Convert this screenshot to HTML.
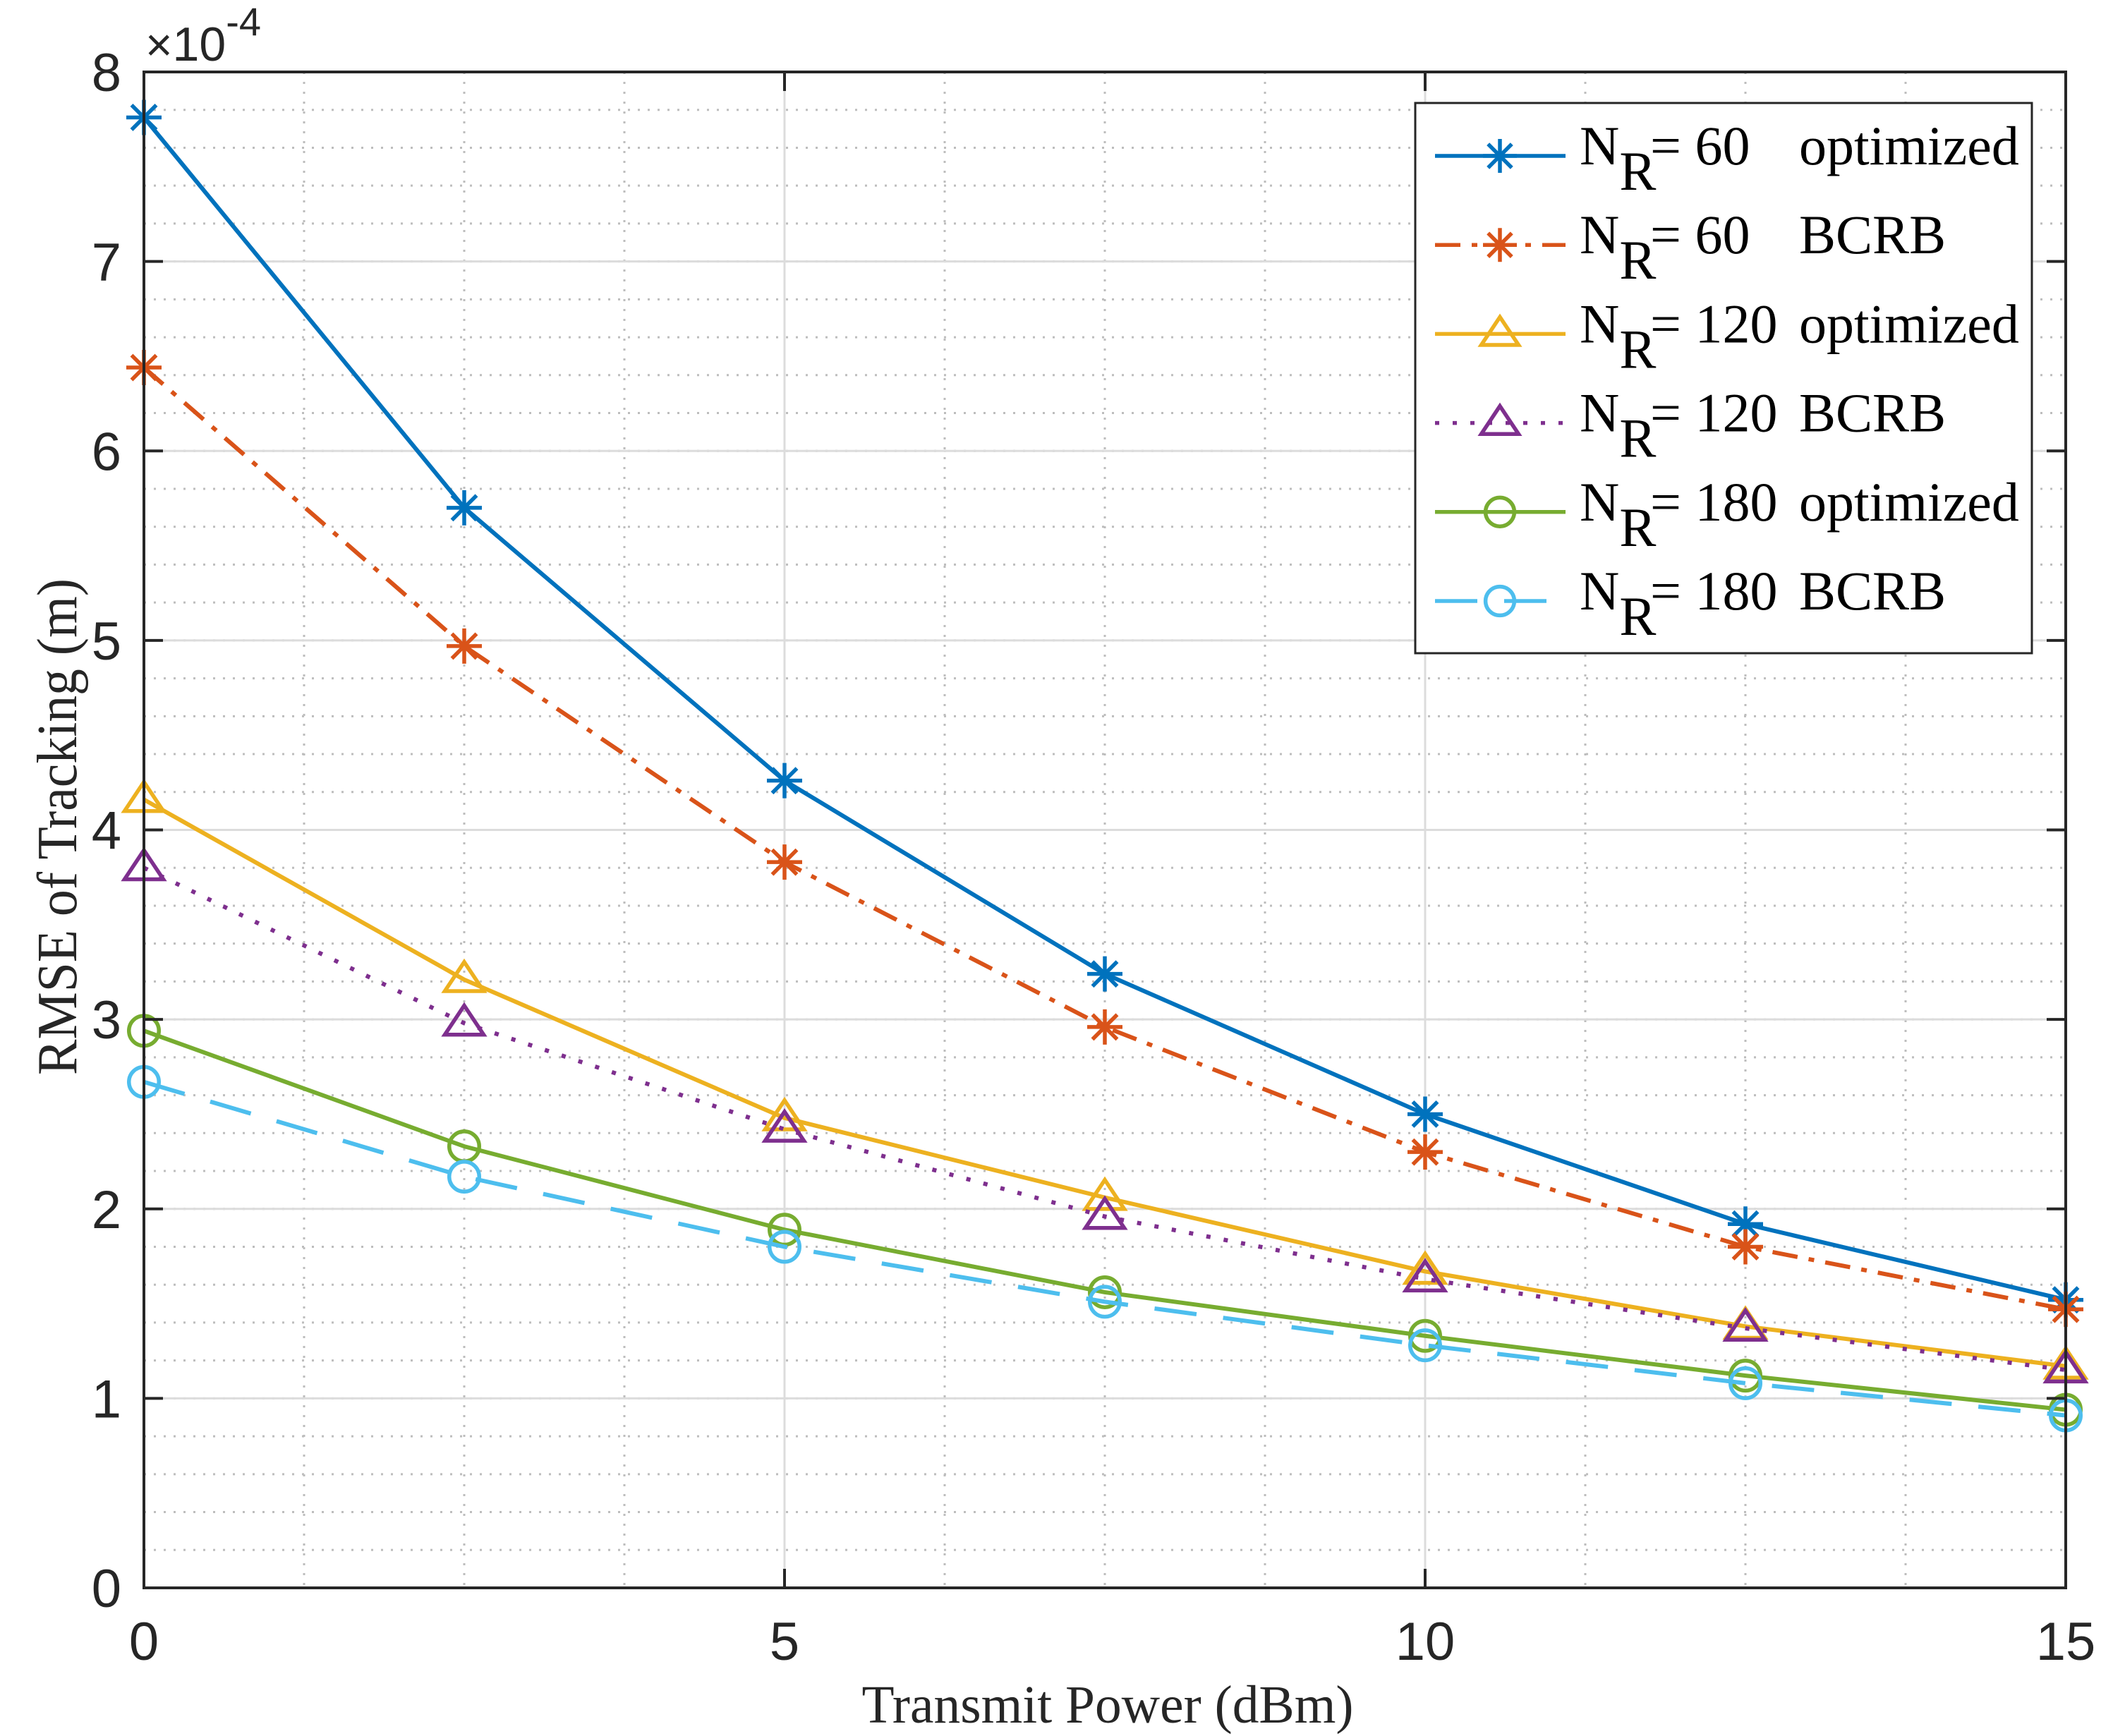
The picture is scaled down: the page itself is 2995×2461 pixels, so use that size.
<!DOCTYPE html>
<html><head><meta charset="utf-8"><style>
html,body{margin:0;padding:0;background:#fff;}
svg{display:block;}
</style></head><body>
<svg id="chart" width="2995" height="2461" viewBox="0 0 2995 2461" xmlns="http://www.w3.org/2000/svg">
<rect x="0" y="0" width="2995" height="2461" fill="#fff"/>
<g id="grid"></g>
<g id="series"></g>
<g id="axes"></g>
<g id="legend"></g>
</svg>
<script>
const xValues = [0, 2.5, 5, 7.5, 10, 12.5, 15];
const nr60Optimized = [7.76, 5.70, 4.26, 3.24, 2.50, 1.92, 1.52];
const nr60Bcrb = [6.44, 4.97, 3.83, 2.96, 2.30, 1.80, 1.47];
const nr120Optimized = [4.16, 3.21, 2.48, 2.06, 1.67, 1.38, 1.17];
const nr120Bcrb = [3.80, 2.98, 2.42, 1.96, 1.63, 1.37, 1.15];
const nr180Optimized = [2.94, 2.33, 1.89, 1.56, 1.33, 1.12, 0.94];
const nr180Bcrb = [2.67, 2.17, 1.80, 1.51, 1.28, 1.08, 0.91];
const xTicks = [0, 5, 10, 15];
const yTicks = [0, 1, 2, 3, 4, 5, 6, 7, 8];
const legendCounts = ["60", "60", "120", "120", "180", "180"];
const legendKinds = ["optimized", "BCRB", "optimized", "BCRB", "optimized", "BCRB"];

const NS = "http://www.w3.org/2000/svg";
const L = 204, R = 2928, T = 102, B = 2251;
const xMin = 0, xMax = 15, yMin = 0, yMax = 8;
function sx(v){ return L + (v - xMin) / (xMax - xMin) * (R - L); }
function sy(v){ return B - (v - yMin) / (yMax - yMin) * (B - T); }
function mk(tag, attrs, parent){
  const e = document.createElementNS(NS, tag);
  for (const k in attrs) e.setAttribute(k, attrs[k]);
  parent.appendChild(e);
  return e;
}
const grid = document.getElementById('grid');
const axes = document.getElementById('axes');
const seriesG = document.getElementById('series');
const legend = document.getElementById('legend');

for (let v = 0; v <= 15.001; v += 1.25) {
  const e = mk('line', {x1: sx(v), x2: sx(v), y1: T, y2: B, stroke: '#bdbdbd', 'stroke-width': 3, 'stroke-dasharray': '3 11'}, grid);
  
  
}
for (let v = 0; v <= 8.001; v += 0.2) {
  const e = mk('line', {x1: L, x2: R, y1: sy(v), y2: sy(v), stroke: '#bdbdbd', 'stroke-width': 3, 'stroke-dasharray': '3 11'}, grid);
  
  
}
xTicks.forEach(v => {
  const e = mk('line', {x1: sx(v), x2: sx(v), y1: T, y2: B, stroke: '#dcdcdc', 'stroke-width': 3}, grid);
  
  
});
yTicks.forEach(v => {
  const e = mk('line', {x1: L, x2: R, y1: sy(v), y2: sy(v), stroke: '#dcdcdc', 'stroke-width': 3}, grid);
  
  
});

const seriesDefs = [
  {data: nr60Optimized, color: '#0072BD', dash: '', marker: 'star', name: 'series-nr60-optimized'},
  {data: nr60Bcrb, color: '#D95319', dash: '36 16 8 16', marker: 'star', name: 'series-nr60-bcrb'},
  {data: nr120Optimized, color: '#EDB120', dash: '', marker: 'tri', name: 'series-nr120-optimized'},
  {data: nr120Bcrb, color: '#7E2F8E', dash: '6 19', marker: 'tri', name: 'series-nr120-bcrb'},
  {data: nr180Optimized, color: '#77AC30', dash: '', marker: 'circ', name: 'series-nr180-optimized'},
  {data: nr180Bcrb, color: '#4DBEEE', dash: '60 38', marker: 'circ', name: 'series-nr180-bcrb'}
];
function drawMarker(type, cx, cy, color, parent, s){
  const g = mk('g', {}, parent);
  if (type === 'star') {
    const r = s;
    [[-r,0,r,0],[0,-r,0,r],[-r*0.7,-r*0.7,r*0.7,r*0.7],[-r*0.7,r*0.7,r*0.7,-r*0.7]].forEach(p=>{
      mk('line', {x1: cx+p[0], y1: cy+p[1], x2: cx+p[2], y2: cy+p[3], stroke: color, 'stroke-width': 5.5}, g);
    });
  } else if (type === 'tri') {
    const r = s;
    mk('polygon', {points: `${cx},${cy-r} ${cx+r*1.1},${cy+r*0.65} ${cx-r*1.1},${cy+r*0.65}`, fill: 'none', stroke: color, 'stroke-width': 5.5}, g);
  } else {
    mk('circle', {cx: cx, cy: cy, r: s*0.85, fill: 'none', stroke: color, 'stroke-width': 5.5}, g);
  }
  return g;
}
seriesDefs.forEach(sd => {
  const g = mk('g', {}, seriesG);
  
  
  const pts = sd.data.map((v,i) => sx(xValues[i]) + ',' + sy(v)).join(' ');
  const attrs = {points: pts, fill: 'none', stroke: sd.color, 'stroke-width': 6, 'stroke-linejoin': 'round'};
  if (sd.dash) attrs['stroke-dasharray'] = sd.dash;
  const pl = mk('polyline', attrs, g);
  
  
  sd.data.forEach((v,i) => {
    const m = drawMarker(sd.marker, sx(xValues[i]), sy(v), sd.color, g, 25);
    
    
  });
});

const box = mk('rect', {x: L, y: T, width: R-L, height: B-T, fill: 'none', stroke: '#262626', 'stroke-width': 4}, axes);


const tick = 27;
yTicks.forEach(v => {
  mk('line', {x1: L, x2: L+tick, y1: sy(v), y2: sy(v), stroke: '#262626', 'stroke-width': 4}, axes);
  mk('line', {x1: R, x2: R-tick, y1: sy(v), y2: sy(v), stroke: '#262626', 'stroke-width': 4}, axes);
  const t = mk('text', {x: 172, y: sy(v) + 27, 'text-anchor': 'end', 'font-family': 'Liberation Sans, sans-serif', 'font-size': 76, fill: '#262626'}, axes);
  t.textContent = v;
  
  
});
xTicks.forEach(v => {
  mk('line', {x1: sx(v), x2: sx(v), y1: B, y2: B-tick, stroke: '#262626', 'stroke-width': 4}, axes);
  mk('line', {x1: sx(v), x2: sx(v), y1: T, y2: T+tick, stroke: '#262626', 'stroke-width': 4}, axes);
  const t = mk('text', {x: sx(v), y: 2353, 'text-anchor': 'middle', 'font-family': 'Liberation Sans, sans-serif', 'font-size': 76, fill: '#262626'}, axes);
  t.textContent = v;
  
  
});
const ex = mk('text', {x: 206, y: 86, 'font-family': 'Liberation Sans, sans-serif', 'font-size': 68, fill: '#262626'}, axes);
ex.innerHTML = '<tspan font-size="66">×</tspan>10<tspan dy="-36" font-size="56">-4</tspan>';


const xt = mk('text', {x: 1570, y: 2442, 'text-anchor': 'middle', 'font-family': 'Liberation Serif, serif', 'font-size': 76, fill: '#262626', textLength: 697, lengthAdjust: 'spacingAndGlyphs'}, axes);
xt.textContent = 'Transmit Power (dBm)';


const yt = mk('text', {x: 0, y: 0, 'text-anchor': 'middle', 'font-family': 'Liberation Serif, serif', 'font-size': 80, fill: '#262626', textLength: 704, lengthAdjust: 'spacingAndGlyphs', transform: 'translate(108,1172) rotate(-90)'}, axes);
yt.textContent = 'RMSE of Tracking (m)';



const lb = mk('rect', {x: 2006, y: 146, width: 874, height: 780, fill: '#fff', stroke: '#262626', 'stroke-width': 3}, legend);


seriesDefs.forEach((sd, i) => {
  const cy = 221 + i * 126.2;
  const g = mk('g', {}, legend);
  
  
  const la = {x1: 2034, x2: 2219, y1: cy, y2: cy, stroke: sd.color, 'stroke-width': 5.5};
  if (sd.dash) la['stroke-dasharray'] = sd.dash;
  mk('line', la, g);
  drawMarker(sd.marker, 2126, cy, sd.color, g, 24);
  const t = mk('text', {x: 2239, y: cy + 12, 'font-family': 'Liberation Serif, serif', 'font-size': 78, fill: '#000'}, g);
  t.innerHTML = 'N<tspan dy="36">R</tspan>';
  const t2 = mk('text', {x: 2339, y: cy + 12, 'font-family': 'Liberation Serif, serif', 'font-size': 78, fill: '#000'}, g);
  t2.textContent = '= ' + legendCounts[i];
  const t3 = mk('text', {x: 2550, y: cy + 12, 'font-family': 'Liberation Serif, serif', 'font-size': 78, fill: '#000'}, g);
  t3.textContent = legendKinds[i];
});
</script>
</body></html>
